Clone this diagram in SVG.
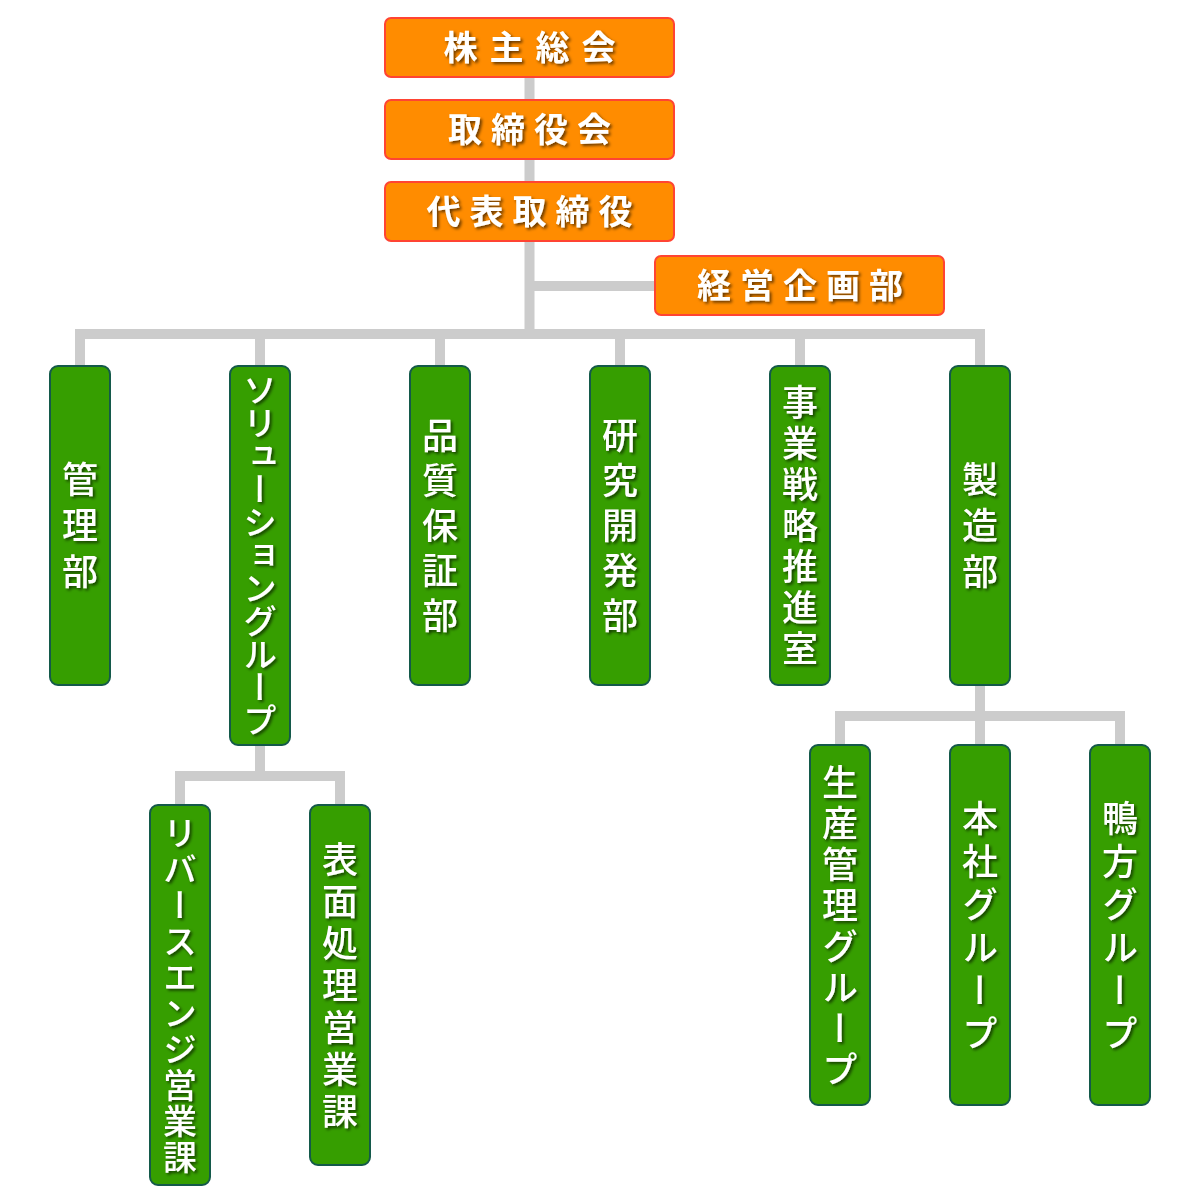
<svg xmlns="http://www.w3.org/2000/svg" width="1200" height="1200" viewBox="0 0 1200 1200">
<defs>
<filter id="ts" x="-20%" y="-20%" width="140%" height="140%">
<feDropShadow dx="2" dy="2" stdDeviation="1.5" flood-color="#000" flood-opacity="0.6"/>
</filter>
<style>
.conn{fill:none;stroke:#cccccc;stroke-width:10;stroke-linejoin:miter;stroke-linecap:butt}
.ob{fill:#ff8c00;stroke:#ff4433;stroke-width:2}
.gb{fill:#369e00;stroke:#14594a;stroke-width:2}
.ot{font-family:"Noto Sans CJK JP","Noto Sans",sans-serif;font-size:34px;font-weight:bold;fill:#fff;text-anchor:middle;filter:url(#ts)}
.gt{font-family:"Noto Sans CJK JP","Noto Sans",sans-serif;font-size:36px;font-weight:500;fill:#fff;text-anchor:middle;writing-mode:vertical-rl;filter:url(#ts)}
</style>
</defs>
<rect width="1200" height="1200" fill="#fff"/>
<g id="connectors">
<path class="conn" d="M529.5 77V334"/>
<path class="conn" d="M529.5 286H655"/>
<path class="conn" d="M80 366V334H980V366"/>
<path class="conn" d="M260 334V366M440 334V366M620 334V366M800 334V366"/>
<path class="conn" d="M260 745V776"/>
<path class="conn" d="M180 805V776H340V805"/>
<path class="conn" d="M980 685V716"/>
<path class="conn" d="M840 745V716H1120V745M980 716V745"/>
</g>
<g id="n-kabunushi"><rect class="ob" x="385" y="18" width="289" height="59" rx="6"/><text class="ot" x="535.5" y="60" letter-spacing="12">株主総会</text></g>
<g id="n-torishimariyakukai"><rect class="ob" x="385" y="100" width="289" height="59" rx="6"/><text class="ot" x="534" y="142" letter-spacing="9">取締役会</text></g>
<g id="n-daihyo"><rect class="ob" x="385" y="182" width="289" height="59" rx="6"/><text class="ot" x="534" y="224" letter-spacing="9">代表取締役</text></g>
<g id="n-keiei"><rect class="ob" x="655" y="256" width="289" height="59" rx="6"/><text class="ot" x="804.5" y="298" letter-spacing="9">経営企画部</text></g>
<g id="n-kanri"><rect class="gb" x="50" y="366" width="60" height="319" rx="8"/><text class="gt" x="80" y="530" letter-spacing="10">管理部</text></g>
<g id="n-solution"><rect class="gb" x="230" y="366" width="60" height="379" rx="8"/><text class="gt" x="260" y="555" style="font-size:34px" letter-spacing="-1">ソリューショングループ</text></g>
<g id="n-hinshitsu"><rect class="gb" x="410" y="366" width="60" height="319" rx="8"/><text class="gt" x="440" y="530" letter-spacing="9">品質保証部</text></g>
<g id="n-kenkyu"><rect class="gb" x="590" y="366" width="60" height="319" rx="8"/><text class="gt" x="620" y="530" letter-spacing="9">研究開発部</text></g>
<g id="n-jigyo"><rect class="gb" x="770" y="366" width="60" height="319" rx="8"/><text class="gt" x="800" y="528" letter-spacing="5">事業戦略推進室</text></g>
<g id="n-seizo"><rect class="gb" x="950" y="366" width="60" height="319" rx="8"/><text class="gt" x="980" y="530" letter-spacing="10">製造部</text></g>
<g id="n-reverse"><rect class="gb" x="150" y="805" width="60" height="380" rx="8"/><text class="gt" x="180" y="996" style="font-size:34px" letter-spacing="2">リバースエンジ営業課</text></g>
<g id="n-hyomen"><rect class="gb" x="310" y="805" width="60" height="360" rx="8"/><text class="gt" x="340" y="988" letter-spacing="6">表面処理営業課</text></g>
<g id="n-seisan"><rect class="gb" x="810" y="745" width="60" height="360" rx="8"/><text class="gt" x="840" y="928" letter-spacing="5">生産管理グループ</text></g>
<g id="n-honsha"><rect class="gb" x="950" y="745" width="60" height="360" rx="8"/><text class="gt" x="980" y="929" letter-spacing="7">本社グループ</text></g>
<g id="n-kamogata"><rect class="gb" x="1090" y="745" width="60" height="360" rx="8"/><text class="gt" x="1120" y="929" letter-spacing="7">鴨方グループ</text></g>
</svg>
